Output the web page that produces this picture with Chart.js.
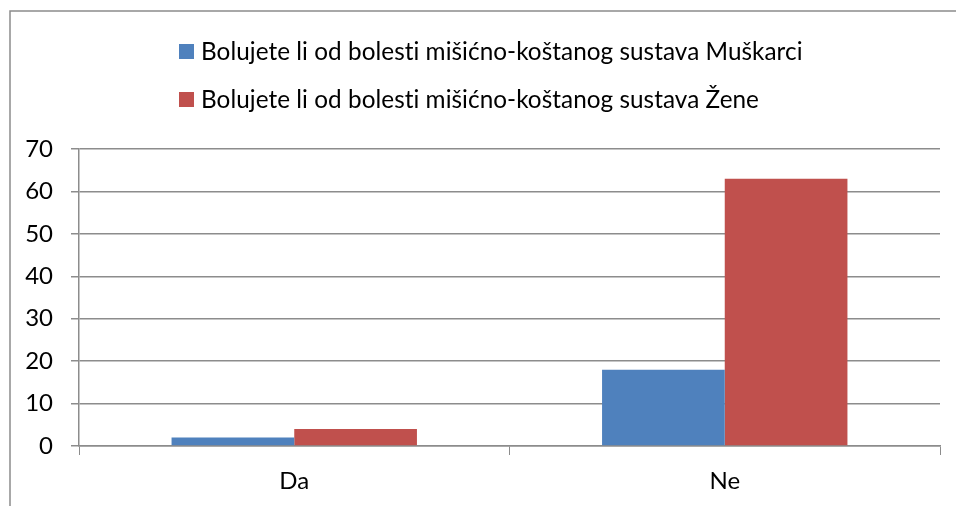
<!DOCTYPE html>
<html>
<head>
<meta charset="utf-8">
<title>Bolujete li od bolesti mišićno-koštanog sustava</title>
<script src="https://cdn.jsdelivr.net/npm/chart.js@4.4.1/dist/chart.umd.min.js"></script>
<style>
  html, body { margin: 0; padding: 0; background: #fff; }
  #wrap { width: 956px; height: 506px; }
</style>
</head>
<body>
<div id="wrap"><canvas id="myChart" width="956" height="506"></canvas></div>
<script>
var categories = ['Da', 'Ne'];
var seriesNames = [
    'Bolujete li od bolesti mišićno-koštanog sustava Muškarci',
    'Bolujete li od bolesti mišićno-koštanog sustava Žene'
];
var muskarci = [2, 18];
var zene = [4, 63];
var seriesColors = ['#4F81BD', '#C0504D'];

var fontFamily = 'Lato, "Open Sans", sans-serif';
var gridColor = '#8c8c8c';

// frame round the whole chart plus the stacked legend above the plot
var framePlugin = {
    id: 'frame',
    beforeDraw: function (chart) {
        var c = chart.ctx;
        c.save();
        c.strokeStyle = gridColor;
        c.lineWidth = 1.5;
        c.beginPath();
        c.moveTo(10, chart.height + 5);
        c.lineTo(10, 11);
        c.lineTo(chart.width + 5, 11);
        c.stroke();
        c.restore();
    },
    afterDraw: function (chart) {
        var c = chart.ctx;
        c.save();
        c.font = '24.3px ' + fontFamily;
        c.textBaseline = 'middle';
        c.textAlign = 'left';
        // tiny spacing keeps Lato from joining "ti" into a ligature
        if ('letterSpacing' in c) c.letterSpacing = '0.05px';
        chart.data.datasets.forEach(function (ds, i) {
            var y = 51 + i * 48;
            c.fillStyle = ds.backgroundColor;
            c.fillRect(179, y - 7, 15, 15);
            c.fillStyle = '#000';
            c.fillText(ds.label, 201, y + 1);
        });
        c.restore();
    }
};

var ctx = document.getElementById('myChart').getContext('2d');
var myChart = new Chart(ctx, {
    type: 'bar',
    data: {
        labels: categories,
        datasets: [{
            label: seriesNames[0],
            data: muskarci,
            backgroundColor: seriesColors[0],
            categoryPercentage: 0.57,
            barPercentage: 1.0
        }, {
            label: seriesNames[1],
            data: zene,
            backgroundColor: seriesColors[1],
            categoryPercentage: 0.57,
            barPercentage: 1.0
        }]
    },
    options: {
        responsive: false,
        animation: false,
        layout: {
            padding: { top: 149, right: 16, left: 0, bottom: 0 }
        },
        plugins: {
            legend: { display: false },
            tooltip: { enabled: false }
        },
        scales: {
            x: {
                grid: {
                    offset: true,
                    drawOnChartArea: false,
                    color: gridColor,
                    tickLength: 9
                },
                border: { color: gridColor, width: 1.5 },
                ticks: {
                    color: '#000',
                    padding: 12,
                    font: { family: fontFamily, size: 24 }
                },
                afterFit: function (scale) { scale.height = 60; }
            },
            y: {
                min: 0,
                max: 70,
                ticks: {
                    stepSize: 10,
                    color: '#000',
                    padding: 18,
                    font: { family: fontFamily, size: 24 }
                },
                grid: {
                    color: gridColor,
                    lineWidth: 1.5,
                    tickLength: 8
                },
                border: { color: gridColor, width: 1.5 },
                afterFit: function (scale) { scale.width = 79; }
            }
        }
    },
    plugins: [framePlugin]
});
</script>
</body>
</html>
